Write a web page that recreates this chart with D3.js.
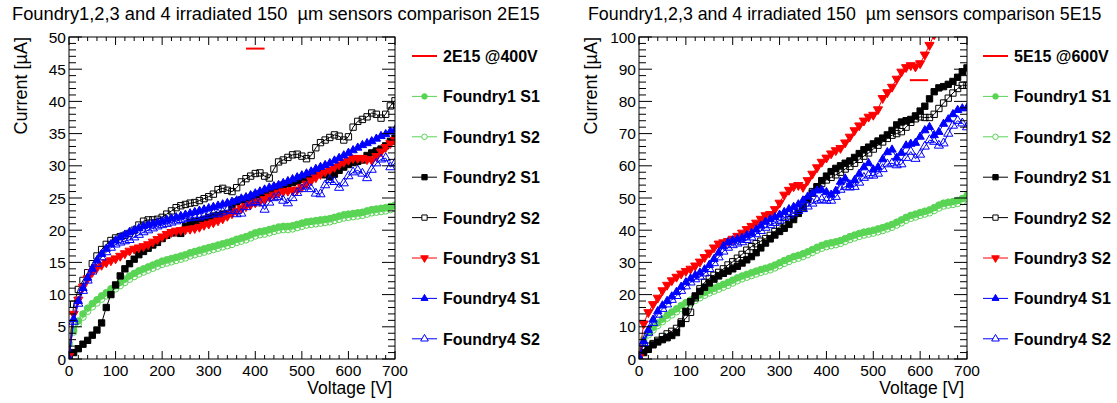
<!DOCTYPE html>
<html>
<head>
<meta charset="utf-8">
<script src="https://cdn.jsdelivr.net/npm/d3@7"></script>
<style>
  body { margin: 0; background: #fff; }
  svg { font-family: "Liberation Sans", Arial, Helvetica, sans-serif; }
  .legend text { font-weight: bold; }
  .title { white-space: pre; }
</style>
</head>
<body>
<svg id="chart" width="1117" height="403"></svg>
<script>
// Bias voltage grid of the IV scans (V)
const voltages = [0,10,20,30,40,50,60,70,80,90,100,110,120,130,140,150,160,170,180,190,200,
  210,220,230,240,250,260,270,280,290,300,310,320,330,340,350,360,370,380,390,400,
  410,420,430,440,450,460,470,480,490,500,510,520,530,540,550,560,570,580,590,600,
  610,620,630,640,650,660,670,680,690,700];

// ---- 2E15 fluence, leakage current in uA ----
const f1s1_2e15 = [2.5,4.5,5.9,7.0,7.9,8.6,9.2,9.8,10.3,10.9,11.4,11.9,12.4,12.9,13.3,13.7,14.0,14.3,14.6,14.9,15.2,
  15.4,15.6,15.8,16.0,16.2,16.5,16.7,16.9,17.1,17.3,17.5,17.7,17.9,18.1,18.3,18.6,18.8,19.0,19.3,19.6,
  19.8,19.9,20.1,20.3,20.5,20.6,20.6,20.7,20.9,21.1,21.3,21.4,21.5,21.6,21.7,21.8,22.0,22.2,22.4,22.5,
  22.6,22.7,22.8,23.0,23.2,23.3,23.4,23.5,23.7,23.9];
const f1s2_2e15 = [2.3,4.2,5.5,6.5,7.4,8.1,8.7,9.3,9.8,10.4,10.9,11.4,11.9,12.4,12.8,13.2,13.5,13.8,14.1,14.4,14.7,
  14.9,15.1,15.3,15.5,15.7,16.0,16.2,16.4,16.6,16.8,17.0,17.2,17.4,17.6,17.8,18.1,18.3,18.5,18.8,19.1,
  19.3,19.4,19.6,19.8,20.0,20.1,20.1,20.2,20.4,20.6,20.8,20.9,21.0,21.1,21.2,21.3,21.5,21.7,21.9,22.0,
  22.1,22.2,22.3,22.5,22.7,22.8,22.9,23.0,23.2,23.4];
const f2s1_2e15 = [0.2,1.0,1.6,2.3,2.9,3.7,4.5,5.6,8.0,10.0,11.5,12.9,14.0,14.8,15.5,16.2,16.7,17.2,17.7,18.1,18.7,
  19.2,19.6,19.6,19.5,20.6,21.2,21.3,21.5,21.7,22.0,22.2,22.3,22.5,22.6,23.5,24.4,24.7,24.8,25.0,25.3,
  25.6,25.8,26.0,26.3,26.7,27.0,27.2,27.4,27.6,27.9,28.2,28.6,29.0,29.1,28.6,28.3,28.7,29.3,29.8,30.2,
  30.5,30.7,30.9,31.6,32.0,32.3,32.6,33.1,33.8,34.3];
const f2s2_2e15 = [0.5,8.5,10.8,12.2,13.4,14.8,16.0,17.0,17.8,18.4,18.8,19.0,19.2,19.5,20.0,20.8,21.4,21.6,21.6,21.7,22.0,
  22.5,23.0,23.5,23.8,24.0,24.2,24.3,24.6,24.9,25.2,25.6,26.3,26.5,26.2,26.0,26.6,27.5,28.0,28.4,28.8,
  28.9,28.4,28.1,29.5,30.6,30.9,31.3,31.7,31.8,31.5,31.1,31.6,32.8,33.6,34.0,34.4,34.8,34.6,34.0,34.5,
  36.0,36.9,37.2,37.6,38.2,38.0,37.4,38.0,39.3,40.1];
const f3s1_2e15 = [0.5,7.0,9.2,11.2,12.5,13.5,14.2,14.6,15.0,15.3,15.6,16.0,16.4,16.8,17.1,17.3,17.5,17.8,18.2,18.6,19.0,
  19.4,19.7,19.9,20.0,20.1,20.2,20.3,20.5,20.8,21.0,21.2,21.5,21.8,22.2,22.6,23.0,23.4,23.7,24.0,24.3,
  24.5,24.8,25.2,25.5,25.8,26.0,26.1,26.2,26.3,26.7,27.2,27.7,28.2,28.7,29.1,29.4,29.8,30.2,30.6,30.9,
  31.2,31.2,31.2,31.0,30.9,31.5,32.2,32.9,33.5,34.0];
const f4s1_2e15 = [0,6.2,9.0,11.0,12.6,14.0,15.3,16.3,17.1,17.8,18.4,18.9,19.3,19.7,20.0,20.3,20.6,20.8,21.0,21.2,21.4,
  21.6,21.8,22.0,22.2,22.4,22.6,22.8,23.0,23.2,23.4,23.6,23.8,24.0,24.2,24.4,24.6,24.9,25.1,25.4,25.7,
  26.0,26.3,26.6,26.8,27.0,27.3,27.6,27.9,28.2,28.5,28.8,29.1,29.5,29.8,30.1,30.4,30.8,31.2,31.6,32.0,
  32.4,32.8,33.2,33.5,33.8,34.2,34.6,34.9,35.3,35.6];
const f4s2_2e15 = [0,5.8,8.6,10.6,12.2,13.6,14.8,15.8,16.6,17.3,17.8,18.1,18.3,18.5,18.9,19.3,19.7,20.0,20.3,20.6,20.8,
  21.0,21.2,21.4,21.6,21.8,21.9,22.0,22.0,22.2,22.4,22.6,22.5,22.8,23.1,23.0,22.5,22.6,23.6,24.2,24.4,
  24.2,23.2,24.3,25.0,25.2,24.6,24.2,25.0,25.8,26.4,26.8,26.4,25.7,25.6,27.0,27.8,27.5,26.6,27.3,28.4,
  29.0,29.3,28.8,28.1,29.4,30.4,31.0,31.2,29.8,30.4];

// ---- 5E15 fluence ----
const f1s1_5e15 = [3.0,6.2,8.2,9.8,11.2,12.4,13.6,14.6,15.6,16.6,17.5,18.3,19.1,19.9,20.7,21.4,22.0,22.6,23.2,23.8,24.5,
  25.2,25.8,26.3,26.8,27.3,27.8,28.2,28.6,29.2,29.9,30.6,31.2,31.8,32.2,32.7,33.3,34.0,34.7,35.3,35.8,
  36.1,36.4,36.8,37.4,38.0,38.5,39.0,39.4,39.7,40.0,40.4,40.8,41.3,41.8,42.5,43.2,44.0,44.6,45.0,45.5,
  45.9,46.3,47.0,47.8,48.4,48.7,48.9,49.2,49.8,50.8];
const f1s2_5e15 = [2.6,5.6,7.5,9.0,10.4,11.6,12.7,13.7,14.7,15.7,16.6,17.4,18.2,19.0,19.8,20.5,21.1,21.7,22.3,22.9,23.6,
  24.3,24.9,25.4,25.9,26.4,26.9,27.3,27.7,28.3,29.0,29.7,30.3,30.9,31.3,31.8,32.4,33.1,33.8,34.4,34.9,
  35.2,35.5,35.9,36.5,37.1,37.6,38.1,38.5,38.8,39.1,39.5,39.9,40.4,40.9,41.6,42.3,43.1,43.7,44.1,44.6,
  45.0,45.4,46.1,46.9,47.5,47.8,48.0,48.3,48.9,49.9];
const f2s1_5e15 = [0.5,2.0,3.0,4.4,5.3,6.0,6.6,7.3,8.2,11.0,14.8,17.8,19.6,21.0,22.3,23.6,24.8,25.8,26.6,27.3,28.0,
  28.8,29.8,30.8,31.8,33.0,34.5,36.0,37.3,38.5,39.6,40.6,41.8,43.3,45.2,47.2,49.5,51.5,53.5,55.4,56.8,
  58.2,59.2,60.0,60.8,61.5,62.6,63.8,65.0,65.8,66.8,67.7,68.6,69.6,71.0,72.7,73.6,74.0,74.4,75.5,77.0,
  78.5,80.8,83.0,84.2,84.6,85.3,86.2,87.5,89.2,90.4];
const f2s2_5e15 = [0.5,3.0,4.0,4.8,5.8,7.0,7.8,8.6,9.5,11.5,12.6,14.5,19.0,21.8,23.8,25.0,26.0,26.9,28.0,29.2,30.2,
  31.3,32.5,33.8,34.9,35.8,36.6,37.4,38.4,39.6,41.0,42.2,43.3,44.4,45.6,46.8,49.5,52.0,53.5,54.5,55.6,
  56.4,57.2,58.0,59.0,59.8,60.8,62.0,63.0,64.0,65.2,66.4,67.4,68.5,69.5,70.0,70.6,72.0,73.5,74.6,75.2,
  75.0,75.0,76.0,77.8,79.5,81.0,82.6,84.0,85.0,85.0];
// Foundry3 S2 leaves the frame above 100 uA after about 630 V
const f3s2_5e15 = [0.5,11.0,14.5,17.0,19.0,21.3,23.0,24.4,25.5,26.5,27.3,28.0,29.0,30.2,31.6,33.0,34.6,35.8,36.2,36.6,37.3,
  38.2,39.2,40.3,41.3,42.3,43.5,44.6,45.0,46.5,48.5,51.0,52.5,53.6,54.0,53.4,55.5,57.5,59.5,61.2,62.5,
  63.8,64.8,65.5,67.2,69.0,71.0,72.5,74.0,75.2,75.8,77.5,81.0,82.8,84.5,87.0,89.2,90.6,91.2,90.8,91.8,
  94.5,97.5,100.8,103.5];
const f4s1_5e15 = [0.5,5.5,9.0,12.2,14.8,16.6,18.0,19.4,20.8,22.4,23.8,25.0,26.0,26.8,27.8,29.2,31.0,33.0,35.0,36.3,36.8,
  37.2,37.6,38.4,39.1,40.2,41.4,42.6,43.4,44.0,44.8,45.6,46.5,47.2,48.0,49.2,50.4,51.4,52.3,52.5,51.8,
  51.0,52.2,55.0,56.0,54.2,55.5,57.5,59.5,60.8,58.8,59.5,62.0,64.2,65.0,62.5,64.0,66.3,66.8,67.1,69.0,
  71.0,72.0,69.5,70.5,73.0,74.4,76.0,77.3,77.8,78.0];
const f4s2_5e15 = [0.5,5.0,8.2,11.2,13.8,15.6,17.0,18.4,19.6,21.2,22.6,23.8,24.8,25.6,26.6,28.0,29.8,31.6,33.4,34.6,35.4,
  35.9,36.3,37.0,37.8,38.8,39.8,40.8,41.6,42.3,43.0,43.8,44.6,45.3,46.0,46.6,47.4,48.3,49.2,49.5,49.2,
  49.2,50.4,52.6,53.5,53.3,53.5,54.8,56.3,57.0,57.0,57.6,59.0,60.5,60.8,60.2,60.5,62.5,64.4,62.2,63.5,
  66.0,68.0,67.5,66.3,67.0,70.0,72.5,74.0,73.2,72.0];

// Short red reference marks drawn in each frame: [V from, V to, current]
const ref2e15 = [380, 420, 48.2];
const ref5e15 = [578, 617, 86.6];

// Legend names
const names2e15 = ["2E15 @400V", "Foundry1 S1", "Foundry1 S2", "Foundry2 S1", "Foundry2 S2", "Foundry3 S1", "Foundry4 S1", "Foundry4 S2"];
const names5e15 = ["5E15 @600V", "Foundry1 S1", "Foundry1 S2", "Foundry2 S1", "Foundry2 S2", "Foundry3 S2", "Foundry4 S1", "Foundry4 S2"];

const titles = ["Foundry1,2,3 and 4 irradiated 150  \u00b5m sensors comparison 2E15",
                "Foundry1,2,3 and 4 irradiated 150  \u00b5m sensors comparison 5E15"];

//Marker style for each sensor, same order as the legend (after the reference line)
const green = "#59d454";
const styles = [
  {color: green, shape: d3.symbolCircle, size: 34, open: false},
  {color: green, shape: d3.symbolCircle, size: 34, open: true},
  {color: "#000", shape: d3.symbolSquare, size: 40, open: false},
  {color: "#000", shape: d3.symbolSquare, size: 40, open: true},
  {color: "#f00", shape: d3.symbolTriangle, size: 36, open: false, flip: true},
  {color: "#00f", shape: d3.symbolTriangle, size: 30, open: false},
  {color: "#00f", shape: d3.symbolTriangle, size: 36, open: true}
];

let svg = d3.select("#chart");

function drawPanel(cfg) {
  let x = d3.scaleLinear().domain([0, 700]).range([cfg.left, cfg.right]);
  let y = d3.scaleLinear().domain([0, cfg.ymax]).range([359, 37]);
  let g = svg.append("g");

  //Clip so that curves stop at the frame, like ROOT does
  g.append("clipPath").attr("id", cfg.id + "clip")
    .append("rect").attr("x", cfg.left).attr("y", 37)
    .attr("width", cfg.right - cfg.left).attr("height", 322);

  let plot = g.append("g").attr("clip-path", "url(#" + cfg.id + "clip)");
  let line = d3.line().x((d, i) => x(voltages[i])).y(d => y(d));

  cfg.series.forEach(function(vals, k) {
    let st = styles[k];
    plot.append("path").attr("d", line(vals))
      .attr("fill", "none").attr("stroke", st.color).attr("stroke-width", 1);
    let sym = d3.symbol().type(st.shape).size(st.size);
    plot.selectAll(null).data(vals).enter().append("path")
      .attr("d", sym)
      .attr("transform", (d, i) => "translate(" + x(voltages[i]) + "," + y(d) + ")" + (st.flip ? " rotate(180)" : ""))
      .attr("fill", st.open ? "none" : st.color)
      .attr("stroke", st.color).attr("stroke-width", 1);
  });

  //Reference mark
  plot.append("line")
    .attr("x1", x(cfg.ref[0])).attr("x2", x(cfg.ref[1]))
    .attr("y1", y(cfg.ref[2])).attr("y2", y(cfg.ref[2]))
    .attr("stroke", "#f00").attr("stroke-width", 2);

  //Frame with ticks on all four sides, pointing inward
  let axes = g.append("g").attr("stroke", "#000").attr("stroke-width", 1);
  axes.append("rect").attr("x", cfg.left).attr("y", 37)
    .attr("width", cfg.right - cfg.left).attr("height", 322).attr("fill", "none");

  d3.range(0, 701, 20).forEach(function(v) {
    let len = v % 100 == 0 ? 8 : 4;
    axes.append("line").attr("x1", x(v)).attr("x2", x(v)).attr("y1", 359).attr("y2", 359 - len);
    axes.append("line").attr("x1", x(v)).attr("x2", x(v)).attr("y1", 37).attr("y2", 37 + len);
  });
  d3.range(0, cfg.ymax + 0.001, cfg.yminor).forEach(function(v) {
    let major = Math.abs(v / cfg.ymajor - Math.round(v / cfg.ymajor)) < 1e-6;
    let len = major ? 13 : 7;
    axes.append("line").attr("x1", cfg.left).attr("x2", cfg.left + len).attr("y1", y(v)).attr("y2", y(v));
    axes.append("line").attr("x1", cfg.right).attr("x2", cfg.right - len).attr("y1", y(v)).attr("y2", y(v));
  });

  //Tick labels
  g.selectAll(null).data(d3.range(0, 701, 100)).enter().append("text")
    .attr("x", d => x(d)).attr("y", 376).attr("text-anchor", "middle")
    .attr("font-size", 15.5).text(d => d);
  g.selectAll(null).data(d3.range(0, cfg.ymax + 1, cfg.ymajor)).enter().append("text")
    .attr("x", cfg.left - 3).attr("y", d => y(d) + 5.5).attr("text-anchor", "end")
    .attr("font-size", 15.5).text(d => d);

  //Axis titles
  g.append("text").attr("x", cfg.right - 3).attr("y", 394).attr("text-anchor", "end")
    .attr("font-size", 17.5).text("Voltage [V]");
  g.append("text").attr("transform", "translate(" + (cfg.left - 42) + ",37) rotate(-90)")
    .attr("text-anchor", "end").attr("font-size", 18).text("Current [\u00b5A]");

  //Title
  g.append("text").attr("class", "title").attr("x", cfg.titleX).attr("y", 20)
    .attr("font-size", cfg.titleSize).text(cfg.title);

  //Legend
  let leg = g.append("g").attr("class", "legend");
  cfg.names.forEach(function(name, k) {
    let ly = 56 + k * 40.4;
    let lx = cfg.legX;
    let color = k == 0 ? "#f00" : styles[k - 1].color;
    leg.append("line").attr("x1", lx).attr("x2", lx + 25).attr("y1", ly).attr("y2", ly)
      .attr("stroke", color).attr("stroke-width", k == 0 ? 2 : 1);
    if (k > 0) {
      let st = styles[k - 1];
      leg.append("path").attr("d", d3.symbol().type(st.shape).size(st.size * 0.7))
        .attr("transform", "translate(" + (lx + 12.5) + "," + ly + ")" + (st.flip ? " rotate(180)" : ""))
        .attr("fill", st.open ? "#fff" : st.color).attr("stroke", st.color);
    }
    leg.append("text").attr("x", lx + 31).attr("y", ly + 6).attr("font-size", 16).text(name);
  });
}

drawPanel({id: "p1", left: 69, right: 395, ymax: 50, ymajor: 5, yminor: 1,
  series: [f1s1_2e15, f1s2_2e15, f2s1_2e15, f2s2_2e15, f3s1_2e15, f4s1_2e15, f4s2_2e15],
  ref: ref2e15, names: names2e15, title: titles[0], titleX: 12, titleSize: 18.3, legX: 412});

drawPanel({id: "p2", left: 639, right: 967, ymax: 100, ymajor: 10, yminor: 2,
  series: [f1s1_5e15, f1s2_5e15, f2s1_5e15, f2s2_5e15, f3s2_5e15, f4s1_5e15, f4s2_5e15],
  ref: ref5e15, names: names5e15, title: titles[1], titleX: 588, titleSize: 17.8, legX: 983});
</script>
</body>
</html>
